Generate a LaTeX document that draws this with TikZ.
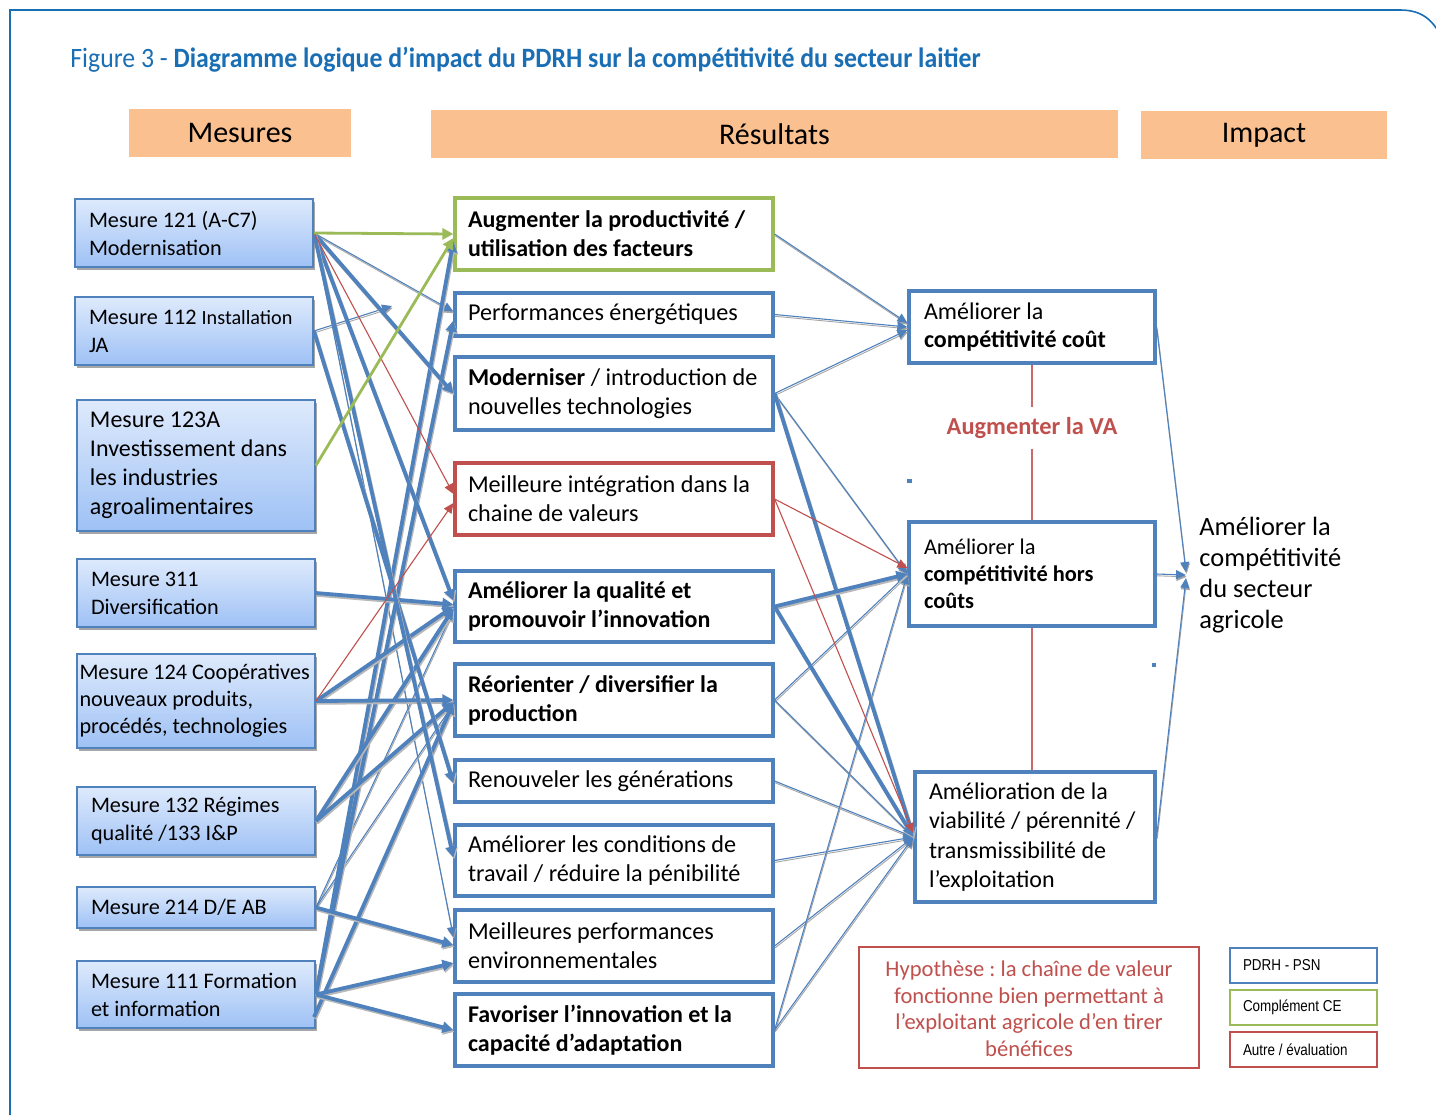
\documentclass[tikz,border=0pt]{standalone}
\usepackage{fontspec}
\setmainfont{Carlito}
\newfontfamily\titlefont[FakeStretch=0.92]{Carlito}
\newfontfamily\legfont[FakeStretch=0.85]{Liberation Sans}
\usetikzlibrary{arrows.meta,shadows,calc}
\definecolor{bblue}{RGB}{79,129,189}
\definecolor{ggreen}{RGB}{155,187,89}
\definecolor{rred}{RGB}{192,80,77}
\definecolor{tblue}{RGB}{25,110,180}
\definecolor{peach}{RGB}{250,192,144}
\definecolor{ltop}{RGB}{222,234,252}
\definecolor{lbot}{RGB}{158,193,245}
\begin{document}
\frenchspacing
\begin{tikzpicture}[x=0.5pt,y=-0.5pt,
  lbox/.style={draw=bblue, line width=0.9pt, top color=ltop, bottom color=lbot,
    drop shadow={shadow xshift=0.9pt, shadow yshift=-1.3pt, fill=black!35, opacity=1},
    inner xsep=0pt, inner ysep=1pt, align=flush left, minimum width=119pt, text width=105pt,
    font=\fontsize{11.1}{14}\selectfont},
  mbox/.style={draw=bblue, line width=1.6pt, fill=white, minimum width=159pt, text width=146pt,
    inner xsep=0pt, inner ysep=1pt, align=flush left, font=\fontsize{12.1}{14.5}\selectfont},
  mboxb/.style={mbox, font=\bfseries\fontsize{12}{14.5}\selectfont},
  cbox/.style={draw=bblue, line width=1.6pt, fill=white, minimum width=123pt, text width=108pt,
    inner xsep=0pt, inner ysep=1pt, align=flush left, font=\fontsize{12}{14.2}\selectfont},
  hbox/.style={fill=peach, minimum height=24pt, font=\fontsize{15}{17}\selectfont},
  lgbox/.style={line width=1.4pt, fill=white, minimum width=73.5pt, minimum height=17.5pt,
    text width=60.5pt, inner xsep=0pt, align=flush left, font=\legfont\fontsize{7.9}{9}\selectfont},
  tk/.style={draw=bblue, line width=1.9pt, -{Triangle[length=5.5pt,width=5.5pt]},
    preaction={draw=black!28, line width=1.9pt, -{Triangle[length=5.5pt,width=5.5pt]},
      transform canvas={shift={(0.5pt,-0.9pt)}}}},
  tn/.style={draw=bblue, line width=0.55pt, -{Triangle[length=5pt,width=4.5pt]},
    preaction={draw=black!35, line width=0.45pt, transform canvas={shift={(0.3pt,-0.9pt)}}}},
  gr/.style={draw=ggreen, line width=1.4pt, -{Triangle[length=5.5pt,width=5.5pt]}},
  rd/.style={draw=rred, line width=0.55pt, -{Triangle[length=5pt,width=4.5pt]}},
  vl/.style={draw=rred!85, line width=0.7pt}
]
\useasboundingbox (0,0) rectangle (1436,1115);
\fill[white] (0,0) rectangle (1436,1115);
% frame
\draw[tblue, line width=0.8pt] (10,1115) -- (10,10) -- (1400,10) .. controls (1422,10) and (1433,20) .. (1442,38);
% title
\node[anchor=west, text=tblue, font=\titlefont\fontsize{14}{16}\selectfont, inner sep=0pt] (title) at (70,60)
  {Figure 3 - \textbf{Diagramme logique d’impact du PDRH sur la compétitivité du secteur laitier}};
% headers
\node[hbox, minimum width=111pt] (h1) at (240,133) {\raisebox{-1pt}{Mesures}};
\node[hbox, minimum width=343.5pt] (h2) at (774.5,134) {\raisebox{-1pt}{Résultats}};
\node[hbox, minimum width=123pt] (h3) at (1264,135) {\raisebox{-1pt}{Impact}};
% left boxes
\node[lbox, minimum height=34pt] (m121) at (194,233) {Mesure 121 (A-C7)\\Modernisation};
\node[lbox, minimum height=34pt] (m112) at (194,331) {Mesure 112 {\fontsize{10.1}{14}\selectfont Installation}\\JA};
\node[lbox, minimum height=65.5pt, text width=106pt, font=\fontsize{12}{14.5}\selectfont] (m123) at (196,465.5) {Mesure 123A\\Investissement dans\\les industries\\agroalimentaires};
\node[lbox, minimum height=34pt] (m311) at (196,593) {Mesure 311\\Diversification};
\node[lbox, minimum height=47pt, text width=116.5pt, font=\fontsize{11.1}{13.5}\selectfont] (m124) at (196,701) {Mesure 124 Coopératives\\nouveaux produits,\\procédés, technologies};
\node[lbox, minimum height=34pt] (m132) at (196,821) {Mesure 132 Régimes\\qualité /133 I\&P};
\node[lbox, minimum height=20.5pt] (m214) at (196,907.5) {Mesure 214 D/E AB};
\node[lbox, minimum height=33.5pt] (m111) at (196,994.5) {Mesure 111 Formation\\et information};
\coordinate (m111b) at (314,1017);
\coordinate (j112) at (392,306);
% middle boxes
\node[mboxb, draw=ggreen, minimum height=36pt] (r1) at (614,234) {Augmenter la productivité /\\utilisation des facteurs};
\node[mbox, minimum height=21.5pt] (r2) at (614,314.5) {Performances énergétiques};
\node[mbox, minimum height=36.5pt] (r3) at (614,393.5) {\textbf{Moderniser} / introduction de\\nouvelles technologies};
\node[mbox, draw=rred, minimum height=36pt] (r4) at (614,499) {Meilleure intégration dans la\\chaine de valeurs};
\node[mboxb, minimum height=35.5pt] (r5) at (614,606.5) {Améliorer la qualité et\\promouvoir l’innovation};
\node[mboxb, minimum height=36pt] (r6) at (614,700) {Réorienter / diversifier la\\production};
\node[mbox, minimum height=21pt] (r7) at (614,781) {Renouveler les générations};
\node[mbox, minimum height=35.5pt] (r8) at (614,860.5) {Améliorer les conditions de\\travail / réduire la pénibilité};
\node[mbox, minimum height=36pt] (r9) at (614,946) {Meilleures performances\\environnementales};
\node[mboxb, minimum height=36pt] (r10) at (614,1030) {Favoriser l’innovation et la\\capacité d’adaptation};
% right boxes
\node[cbox, minimum height=36pt] (c1) at (1032,327) {Améliorer la\\\textbf{compétitivité coût}};
\node[cbox, minimum height=52pt, font=\fontsize{11.2}{13.4}\selectfont] (c2) at (1032,574) {Améliorer la\\\textbf{compétitivité hors}\\\textbf{coûts}};
\node[cbox, minimum width=120pt, text width=106pt, minimum height=65pt, font=\fontsize{12}{14.8}\selectfont] (c3) at (1035,837) {Amélioration de la\\viabilité / pérennité /\\transmissibilité de\\l’exploitation};
\node[text=rred, font=\bfseries\fontsize{12.2}{13}\selectfont, minimum height=21pt, inner sep=0pt] (va) at (1032,428) {Augmenter la VA};
\draw[vl] (c1.south) -- (va.north);
\draw[vl] (va.south) -- (c2.north);
\draw[vl] (c2.south) -- (c2.south |- c3.north);
% impact
\node[anchor=west, align=flush left, inner sep=0pt, font=\fontsize{13.2}{15.6}\selectfont] (imp) at (1199,575) {Améliorer la\\compétitivité\\du secteur\\agricole};
\coordinate (ip) at (1186,575);
% hypothesis
\node[draw=rred, line width=1.4pt, minimum width=170pt, minimum height=60.5pt, text=rred, align=flush center, font=\fontsize{11.3}{13.3}\selectfont] (hyp) at (1029,1007.5) {\rule{0pt}{9pt}Hypothèse : la chaîne de valeur\\fonctionne bien permettant à\\l’exploitant agricole d’en tirer\\bénéfices};
% legend
\node[lgbox, draw=bblue] (lg1) at (1303.5,965.5) {PDRH - PSN};
\node[lgbox, draw=ggreen] (lg2) at (1303.5,1007.5) {Complément CE};
\node[lgbox, draw=rred] (lg3) at (1303.5,1049.5) {Autre / évaluation};
% dots
\fill[bblue] (907,479) rectangle (912,483);
\fill[bblue] (1152,663) rectangle (1156,667);
% connectors left -> middle
\draw[tn] (m121.east) -- ($(r2.west)+(0,-3)$);
\draw[tn] (m112.east) -- (j112);
\draw[tn] (m121.east) -- ($(r9.west)+(0,-9)$);
\draw[tn] (m214.east) -- ($(r5.west)+(0,4)$);
\draw[tn] (m214.east) -- ($(r6.west)+(0,4)$);
\draw[tk] (m111.east) -- ($(r1.west)+(0,7)$);
\draw[tk] (m111.east) -- ($(r2.west)+(0,6)$);
\draw[tk] (m121.east) -- (r3.west);
\draw[tk] (m121.east) -- ($(r5.west)+(0,-6)$);
\draw[tk] (m311.east) -- ($(r5.west)+(0,-2)$);
\draw[tk] (m124.east) -- (r5.west);
\draw[tk] (m132.east) -- ($(r5.west)+(0,2)$);
\draw[tk] (m124.east) -- (r6.west);
\draw[tk] (m132.east) -- ($(r6.west)+(0,2)$);
\draw[tk] (m111b) -- ($(r6.west)+(0,3)$);
\draw[tk] (m112.east) -- ($(r7.west)+(0,2)$);
\draw[tk] (m121.east) -- ($(r8.west)+(0,-3)$);
\draw[tk] (m214.east) -- ($(r9.west)+(0,-1)$);
\draw[tk] (m111.east) -- ($(r9.west)+(0,17)$);
\draw[tk] (m111.east) -- (r10.west);
\draw[rd] (m121.east) -- ($(r4.west)+(0,-5)$);
\draw[rd] (m124.east) -- ($(r4.west)+(0,4)$);
\draw[gr] (m121.east) -- (r1.west);
\draw[gr] (m123.east) -- ($(r1.west)+(0,4)$);
% connectors middle -> right
\draw[tn] (r1.east) -- ($(c1.west)+(0,-4)$);
\draw[tn] (r2.east) -- (c1.west);
\draw[tn] (r3.east) -- ($(c1.west)+(0,3)$);
\draw[tn] (r3.east) -- (c2.west);
\draw[tn] (r6.east) -- (c2.west);
\draw[tn] (r6.east) -- (c3.west);
\draw[tn] (r7.east) -- (c3.west);
\draw[tn] (r8.east) -- (c3.west);
\draw[tn] (r9.east) -- (c3.west);
\draw[tn] (r10.east) -- (c2.west);
\draw[tn] (r10.east) -- (c3.west);
\draw[tk] (r3.east) -- (c3.west);
\draw[tk] (r5.east) -- (c2.west);
\draw[tk] (r5.east) -- (c3.west);
\draw[rd] (r4.east) -- ($(c2.west)+(0,-6)$);
\draw[rd] (r4.east) -- ($(c3.west)+(0,-4)$);
% to impact
\draw[tn] (c1.east) -- ($(ip)+(0,-3)$);
\draw[tn] (c2.east) -- (ip);
\draw[tn] (c3.east) -- ($(ip)+(0,3)$);
\end{tikzpicture}
\end{document}
